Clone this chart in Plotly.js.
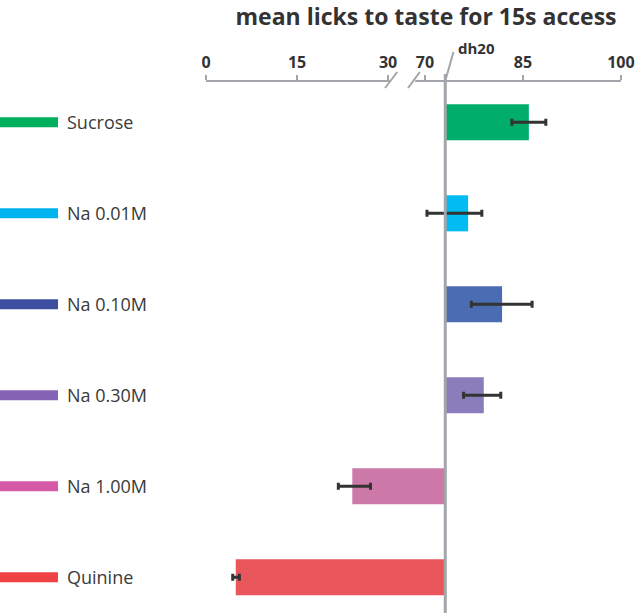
<!DOCTYPE html>
<html>
<head>
<meta charset="utf-8">
<script src="https://cdn.plot.ly/plotly-3.0.1.min.js"></script>
<style>html,body{margin:0;padding:0;background:#fff;}#chart{width:640px;height:613px;}</style>
</head>
<body>
<div id="chart"></div>
<script>
// ---- data ----
var categories = ['Sucrose', 'Na 0.01M', 'Na 0.10M', 'Na 0.30M', 'Na 1.00M', 'Quinine'];
var meanLicks  = [85.9, 76.6, 81.8, 79.0, 24.1, 4.9];
var errPlus    = [2.6, 2.1, 4.6, 2.6, 3.0, 0.6];
var errMinus   = [2.6, 6.3, 4.7, 3.1, 2.3, 0.5];
var waterBaseline = 73.1;            // dh20 reference value
var lowTicks  = [0, 15, 30];
var highTicks = [70, 85, 100];
var barColors = ['#00ad6a', '#00bcf2', '#4a6cb3', '#8a7dbb', '#cd79a9', '#e9565b'];
var swatchColors = ['#00b05e', '#00b4ef', '#3d4ea0', '#8563b5', '#d75aa8', '#f04245'];

// ---- styling constants ----
var W = 640, H = 613, TOP = 81;
var axisGray = '#a2a6aa';
var textCol = '#333333';
function py(px) { return (H - px) / (H - TOP); }   // pixel row -> paper y

var sizes = meanLicks.map(function (v) { return v - waterBaseline; });

function barTrace(xa) {
  return {
    type: 'bar', orientation: 'h',
    y: categories, x: sizes, base: categories.map(function () { return waterBaseline; }),
    xaxis: xa, yaxis: 'y', width: 0.396,
    marker: { color: barColors, line: { width: 0 } },
    error_x: { type: 'data', symmetric: false, array: errPlus, arrayminus: errMinus,
               color: '#333333', thickness: 3, width: 3.5 },
    cliponaxis: true, showlegend: false, hoverinfo: 'skip'
  };
}

var data = [barTrace('x'), barTrace('x2')];

var tickFont = { family: 'Open Sans, sans-serif', size: 16, color: textCol, weight: 'bold' };

var shapes = [
  // axis segments
  { type: 'line', xref: 'x', yref: 'paper', x0: 0, x1: 30.3, y0: 1, y1: 1, line: { color: axisGray, width: 2 } },
  { type: 'line', xref: 'x2', yref: 'paper', x0: 68.5, x1: 100, y0: 1, y1: 1, line: { color: axisGray, width: 2 } },
  // break slashes
  { type: 'line', xref: 'x', yref: 'paper', x0: 29.5, x1: 31.5, y0: py(88), y1: py(72), line: { color: axisGray, width: 2 } },
  { type: 'line', xref: 'x2', yref: 'paper', x0: 67.4, x1: 69.2, y0: py(88), y1: py(72), line: { color: axisGray, width: 2 } },
  // dh20 reference line and its slash
  { type: 'line', xref: 'x2', yref: 'paper', x0: waterBaseline, x1: waterBaseline, y0: 0, y1: py(74), line: { color: axisGray, width: 3 }, layer: 'above' },
  { type: 'line', xref: 'x2', yref: 'paper', x0: waterBaseline, x1: waterBaseline + 1.25, y0: 1, y1: py(52), line: { color: axisGray, width: 2 } }
];

var annotations = [
  { text: '<b>dh20</b>', xref: 'x2', yref: 'paper', x: waterBaseline, y: py(48), xshift: 11,
    xanchor: 'left', yanchor: 'middle', showarrow: false, font: { family: 'Open Sans, sans-serif', size: 15, color: textCol } }
];

categories.forEach(function (c, i) {
  shapes.push({ type: 'line', xref: 'paper', yref: 'y', x0: 0, x1: 58 / W, y0: i, y1: i,
                line: { color: swatchColors[i], width: 10 } });
  annotations.push({ text: c, xref: 'paper', yref: 'y', x: 65 / W, y: i, xanchor: 'left', yanchor: 'middle',
                     showarrow: false, font: { family: 'Open Sans, sans-serif', size: 18, color: '#3a3a3a' } });
});

var axisCommon = {
  side: 'top', anchor: 'y', showgrid: false, zeroline: false, showline: false,
  ticks: 'outside', ticklen: 5, tickwidth: 2, tickcolor: axisGray,
  tickmode: 'array', tickfont: tickFont, ticklabelstandoff: 1, fixedrange: true
};

var layout = {
  width: W, height: H,
  margin: { l: 0, r: 0, t: TOP, b: 0, pad: 0 },
  paper_bgcolor: '#ffffff', plot_bgcolor: '#ffffff',
  title: { text: '<b>mean licks to taste for 15s access</b>', x: 426 / W, xanchor: 'center', xref: 'paper',
           y: 1 - 17 / H, yref: 'container', yanchor: 'middle',
           font: { family: 'Open Sans, sans-serif', size: 23, color: textCol } },
  xaxis: Object.assign({}, axisCommon, { domain: [0, 400 / W], range: [-33.94, 31.96], tickvals: lowTicks, ticktext: lowTicks.map(String) }),
  xaxis2: Object.assign({}, axisCommon, { domain: [400 / W, 1], range: [66.17, 102.92], tickvals: highTicks, ticktext: highTicks.map(String) }),
  yaxis: { type: 'category', range: [5.392, -0.454], showticklabels: false, showgrid: false, zeroline: false,
           showline: false, ticks: '', fixedrange: true },
  shapes: shapes,
  annotations: annotations,
  bargap: 0.6
};

Plotly.newPlot('chart', data, layout, { displayModeBar: false, staticPlot: true });
</script>
</body>
</html>
